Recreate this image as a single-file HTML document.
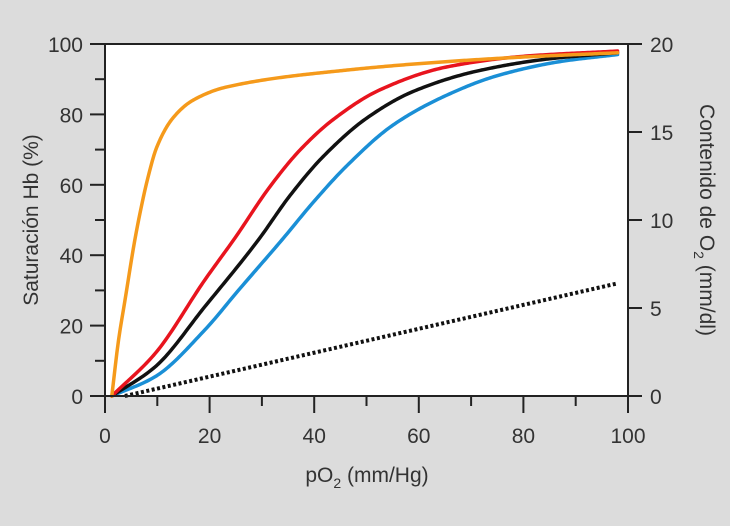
<!DOCTYPE html>
<html><head><meta charset="utf-8"><style>
html,body{margin:0;padding:0;background:#dcdcdc;}
svg{display:block;font-family:"Liberation Sans",Arial,sans-serif;}
</style></head><body>
<svg id="chart" width="730" height="526" viewBox="0 0 730 526">
<rect x="0" y="0" width="730" height="526" fill="#dcdcdc"/>
<rect x="105" y="44" width="523" height="352" fill="#fff"/>
<g id="marks"></g>
<g id="axes"></g>
<text x="38" y="220" font-size="21" fill="#333" text-anchor="middle" transform="rotate(-90 38 220)">Saturación Hb (%)</text>
<text x="700" y="220" font-size="21" fill="#333" text-anchor="middle" transform="rotate(90 700 220)">Contenido de O<tspan font-size="14" dy="6">2</tspan><tspan dy="-6"> (mm/dl)</tspan></text>
<text x="367" y="482" font-size="21" fill="#333" text-anchor="middle">pO<tspan font-size="14" dy="6">2</tspan><tspan dy="-6"> (mm/Hg)</tspan></text>
</svg>
<script>
const xTicks=[0,20,40,60,80,100];
const yTicks=[0,20,40,60,80,100];
const y2Ticks=[0,5,10,15,20];
const orangeX=[1.3,2.6,3.8,5.7,6.7,8.2,9.9,13,16.8,23.3,46.3,65.4,80,98];
const orangeY=[0,16,27,44.3,52,62,70.7,79,84,87.8,92.6,95,96.3,97.5];
const redX=[1.3,9.6,19.1,24.9,31.5,37.3,43.6,52.6,65.4,80,98];
const redY=[0,12.1,33,45,59.4,69.9,78.5,87,93.5,96.5,98];
const blackX=[1.3,9.6,19.1,29.3,35.4,41.7,50.1,58.9,71.7,85,98];
const blackY=[0,8.3,25.4,44.3,57,68,79,86.5,92.5,95.8,97.5];
const blueX=[1.3,9.6,19.1,25.5,33.8,39.8,46.3,55.1,65.4,75,87,98];
const blueY=[0,5.5,18.8,30,44.3,55,65.5,77,85.5,91,95,97];
const contentX=[3.8,98];
const contentY=[0,6.4];
const NS="http://www.w3.org/2000/svg";
const L=105,R=628,T=44,B=396;
const sx=v=>L+(v/100)*(R-L);
const sy=v=>B-(v/100)*(B-T);
const sy2=v=>B-(v/20)*(B-T);
function mk(tag,attrs,parent){const e=document.createElementNS(NS,tag);for(const k in attrs)e.setAttribute(k,attrs[k]);parent.appendChild(e);return e;}
const marks=document.getElementById('marks'),axes=document.getElementById('axes');
function monotone(xs,ys){
 const n=xs.length,d=[],m=new Array(n);
 for(let i=0;i<n-1;i++)d.push((ys[i+1]-ys[i])/(xs[i+1]-xs[i]));
 m[0]=d[0];m[n-1]=d[n-2];
 for(let i=1;i<n-1;i++){if(d[i-1]*d[i]<=0)m[i]=0;else{const w1=2*(xs[i+1]-xs[i])+(xs[i]-xs[i-1]),w2=(xs[i+1]-xs[i])+2*(xs[i]-xs[i-1]);m[i]=(w1+w2)/(w1/d[i-1]+w2/d[i]);}}
 const out=[];
 for(let i=0;i<n-1;i++){const h=xs[i+1]-xs[i];const steps=Math.max(4,Math.ceil(h*3));
  for(let s=0;s<steps;s++){const t=s/steps,t2=t*t,t3=t2*t;
   const y=(2*t3-3*t2+1)*ys[i]+(t3-2*t2+t)*h*m[i]+(-2*t3+3*t2)*ys[i+1]+(t3-t2)*h*m[i+1];
   out.push([xs[i]+t*h,y]);}}
 out.push([xs[n-1],ys[n-1]]);return out;}
function curve(xs,ys,color,name,fy,dash){
 const pts=monotone(xs,ys);
 const p='M'+pts.map(q=>sx(q[0]).toFixed(2)+','+fy(q[1]).toFixed(2)).join(' L');
 const e=mk('path',{d:p,fill:'none',stroke:color,'stroke-width':dash?4:3.5,'stroke-linejoin':'round','stroke-linecap':'round'},marks);
 if(dash){e.setAttribute('stroke-dasharray','3 2.5');e.setAttribute('stroke-linecap','butt');}
 
 
}
curve(contentX,contentY,'#111','oxygen-content-line',sy2,true);
curve(blueX,blueY,'#1a8fd6','blue-curve',sy);
curve(blackX,blackY,'#111','black-curve',sy);
curve(redX,redY,'#e8141e','red-curve',sy);
curve(orangeX,orangeY,'#f59a1b','orange-curve',sy);
const ax={stroke:'#222','stroke-width':2};
let e;
e=mk('line',Object.assign({x1:L,y1:T,x2:L,y2:B},ax),axes);
e=mk('line',Object.assign({x1:R,y1:T,x2:R,y2:B+17},ax),axes);
e=mk('line',Object.assign({x1:L-15,y1:B,x2:R+14,y2:B},ax),axes);
e=mk('line',Object.assign({x1:L-15,y1:T,x2:R+14,y2:T},ax),axes);
for(let v=0;v<=100;v+=10){const x=sx(v);
 e=mk('line',Object.assign({x1:x,y1:B,x2:x,y2:B+(v%20===0?17:10)},ax),axes);
 const y=sy(v);
 e=mk('line',Object.assign({x1:L-(v%20===0?15:10),y1:y,x2:L,y2:y},ax),axes);}
xTicks.forEach(v=>{e=mk('text',{x:sx(v),y:B+47,'font-size':21,fill:'#333','text-anchor':'middle'},axes);e.textContent=v;});
yTicks.forEach(v=>{e=mk('text',{x:L-22,y:sy(v)+8,'font-size':21,fill:'#333','text-anchor':'end'},axes);e.textContent=v;});
y2Ticks.forEach(v=>{const y=sy2(v);e=mk('line',Object.assign({x1:R,y1:y,x2:R+14,y2:y},ax),axes);
 e=mk('text',{x:R+22,y:y+8,'font-size':21,fill:'#333','text-anchor':'start'},axes);e.textContent=v;});
</script>
</body></html>
